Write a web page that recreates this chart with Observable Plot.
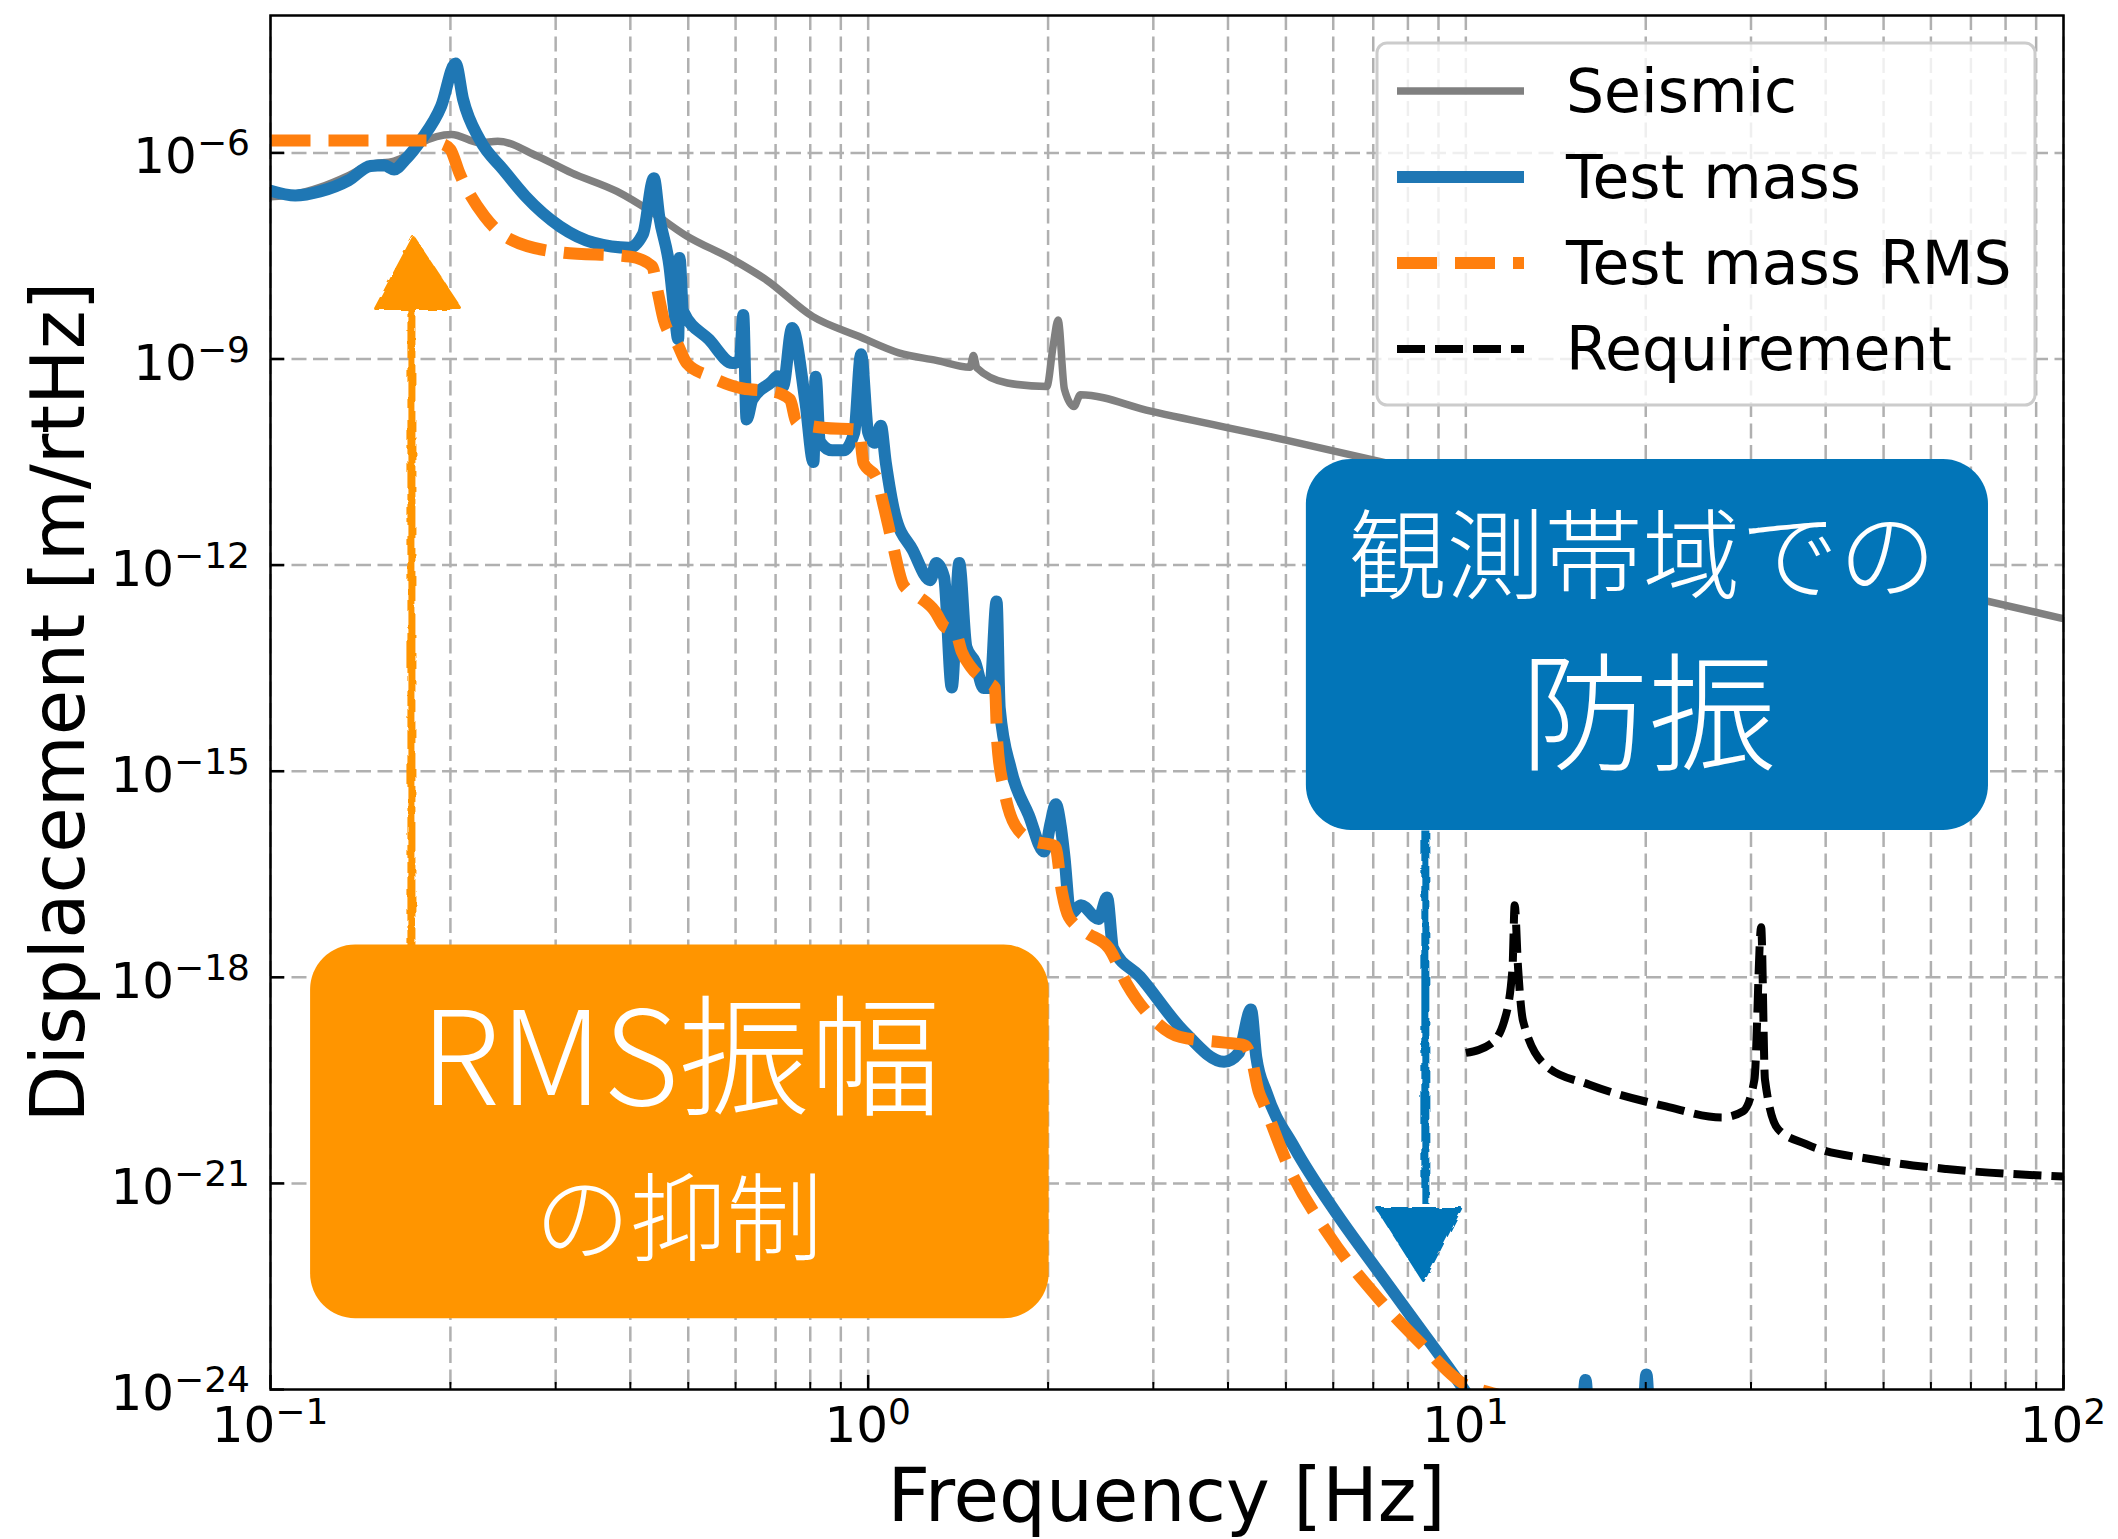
<!DOCTYPE html>
<html>
<head>
<meta charset="utf-8">
<script src="https://cdn.jsdelivr.net/npm/d3@7"></script>
<script src="https://cdn.jsdelivr.net/npm/@observablehq/plot@0.6"></script>
<style>
html,body{margin:0;padding:0;background:#fff;overflow:hidden}
</style>
</head>
<body>
<div id="chart"></div>
<script>
// ---------- data (frequency [Hz], displacement [m/rtHz]) ----------
const seismic = [[0.1,2.29e-7],[0.11,2.51e-7],[0.121,3.16e-7],[0.135,4.68e-7],[0.147,6.76e-7],[0.161,7.59e-7],[0.17,9.55e-7],[0.179,1.41e-6],[0.201,1.86e-6],[0.224,1.41e-6],[0.24,1.48e-6],[0.28,8.91e-7],[0.319,5.13e-7],[0.38,2.75e-7],[0.436,1.35e-7],[0.497,6.17e-8],[0.593,2.82e-8],[0.676,1.41e-8],[0.807,4.17e-9],[0.964,2.14e-9],[1.125,1.23e-9],[1.3,9.55e-10],[1.48,7.59e-10],[1.5,1.12e-9],[1.52,7.41e-10],[1.71,4.47e-10],[1.99,3.98e-10],[2.04,1.58e-9],[2.079,3.7e-9],[2.13,3.63e-10],[2.21,2.04e-10],[2.265,3.02e-10],[2.97,1.74e-10],[5,6.61e-11],[10,1.66e-11],[20,4.17e-12],[50,6.61e-13],[100,1.66e-13]];

const testMass = [[0.1,2.82e-7],[0.11,2.40e-7],[0.121,2.75e-7],[0.135,3.98e-7],[0.147,6.46e-7],[0.155,6.61e-7],[0.161,5.75e-7],[0.168,7.94e-7],[0.179,1.58e-6],[0.193,4.79e-6],[0.204,2.0e-5],[0.21,6.03e-6],[0.224,1.55e-6],[0.245,5.75e-7],[0.267,2.34e-7],[0.305,8.51e-8],[0.348,4.90e-8],[0.398,4.17e-8],[0.42,6.61e-8],[0.438,4.27e-7],[0.447,1.20e-7],[0.465,2.24e-8],[0.475,4.17e-9],[0.481,1.95e-9],[0.4835,2.95e-8],[0.49,5.01e-9],[0.542,1.91e-9],[0.593,8.71e-10],[0.61,9.55e-10],[0.618,4.37e-9],[0.626,1.32e-10],[0.64,2.57e-10],[0.69,4.68e-10],[0.705,5.62e-10],[0.72,3.98e-10],[0.746,2.82e-9],[0.785,2.40e-10],[0.81,3.16e-11],[0.817,5.50e-10],[0.83,6.31e-11],[0.871,4.68e-11],[0.91,4.68e-11],[0.948,8.51e-11],[0.973,1.17e-9],[1.0,8.51e-11],[1.025,6.03e-11],[1.05,1.07e-10],[1.07,3.16e-11],[1.108,5.62e-12],[1.187,1.66e-12],[1.27,6.03e-13],[1.30,1.07e-12],[1.34,6.61e-13],[1.38,1.66e-14],[1.42,1.07e-12],[1.46,6.46e-14],[1.51,3.89e-14],[1.56,1.62e-14],[1.60,1.62e-14],[1.64,2.95e-13],[1.66,8.32e-15],[1.733,1.07e-15],[1.857,2.29e-16],[1.97,6.76e-17],[2.02,1.78e-16],[2.06,3.31e-16],[2.10,1.58e-16],[2.13,5.75e-17],[2.18,8.32e-18],[2.27,1.12e-17],[2.43,7.08e-18],[2.51,1.45e-17],[2.57,2.63e-18],[2.85,1.02e-18],[3.36,1.70e-19],[3.94,5.89e-20],[4.17,7.94e-20],[4.37,3.39e-19],[4.46,6.92e-20],[4.64,2.09e-20],[5.16,3.39e-21],[6.08,3.63e-22],[7.15,5.13e-23],[8.41,7.41e-24],[9.89,1.05e-24],[11,2.51e-25],[15.5,6.31e-26],[15.86,1.38e-24],[16.2,6.31e-26],[19.6,5.01e-26],[20.05,1.66e-24],[20.5,5.01e-26],[30,1e-26],[100,1e-28]];

const testMassRMS = [[0.1,1.51e-6],[0.185,1.51e-6],[0.193,1.38e-6],[0.2,1.12e-6],[0.207,5.13e-7],[0.228,1.20e-7],[0.252,5.50e-8],[0.307,3.55e-8],[0.40,3.09e-8],[0.435,2.24e-8],[0.445,9.12e-9],[0.455,3.72e-9],[0.48,1.62e-9],[0.497,8.71e-10],[0.542,5.62e-10],[0.617,3.72e-10],[0.69,3.39e-10],[0.74,2.57e-10],[0.759,1.20e-10],[0.84,1.0e-10],[0.965,9.33e-11],[0.982,3.09e-11],[1.034,1.82e-11],[1.06,7.76e-12],[1.10,1.95e-12],[1.147,5.01e-13],[1.21,3.55e-13],[1.293,2.14e-13],[1.34,1.29e-13],[1.40,1.07e-13],[1.434,5.50e-14],[1.484,3.31e-14],[1.59,1.95e-14],[1.63,1.62e-14],[1.645,2.51e-15],[1.688,5.37e-16],[1.762,1.62e-16],[1.888,9.77e-17],[2.055,8.13e-17],[2.11,1.74e-17],[2.166,7.59e-18],[2.32,4.47e-18],[2.53,2.63e-18],[2.71,7.94e-19],[3.0,2.45e-19],[3.33,1.35e-19],[3.95,1.12e-19],[4.27,1.02e-19],[4.385,6.17e-20],[4.50,2.19e-20],[4.58,1.51e-20],[5.03,1.91e-21],[5.92,1.70e-22],[7.15,2.09e-23],[8.41,4.68e-24],[9.89,1.23e-24],[11,9.0e-25],[11.5,8.0e-25],[12.5,5.0e-25],[15,2.0e-25],[100,1e-27]];

const requirement = [[10.0,7.94e-20],[11.0,1.07e-19],[11.59,2.29e-19],[11.97,1.35e-18],[12.07,1.12e-17],[12.23,1.35e-18],[12.47,2.29e-19],[13.67,5.01e-20],[16.06,2.75e-20],[21.63,1.32e-20],[26.85,9.12e-21],[29.1,1.12e-20],[30.4,3.24e-20],[31.2,5.37e-18],[31.66,3.24e-20],[33.3,6.17e-21],[37.1,3.72e-21],[48.6,2.19e-21],[63.7,1.62e-21],[100,1.26e-21]];

// ---------- ticks ----------
const xMajorTicks = [0.1, 1, 10, 100];
const xMajorExps = ["\u22121", "0", "1", "2"];
const xMinorTicks = [0.2,0.3,0.4,0.5,0.6,0.7,0.8,0.9,2,3,4,5,6,7,8,9,20,30,40,50,60,70,80,90];
const yTicks = [1e-24, 1e-21, 1e-18, 1e-15, 1e-12, 1e-9, 1e-6];
const yExps = ["\u221224", "\u221221", "\u221218", "\u221215", "\u221212", "\u22129", "\u22126"];
const yGridTicks = [1e-21, 1e-18, 1e-15, 1e-12, 1e-9, 1e-6];

const legendLabels = ["Seismic", "Test mass", "Test mass RMS", "Requirement"];

// ---------- annotation anchors (data units) ----------
const rmsBox = {x1: 0.1167, x2: 2.008, y1: 2.95e-18, y2: 1.07e-23};
const bandBox = {x1: 5.41, x2: 74.9, y1: 3.44e-11, y2: 1.37e-16};
const rmsText = [{x: 0.4853, y: 5.6e-20, t: "RMS振幅", s: 131}, {x: 0.4816, y: 2.7e-22, t: "の抑制", s: 96}];
const bandText = [{x: 19.75, y: 1.22e-12, t: "観測帯域での", s: 98}, {x: 20.21, y: 5.5e-15, t: "防振", s: 128}];
const upShaft = [{x: 0.1721, y: 2.95e-18}, {x: 0.1721, y: 6.0e-9}];
const upHead = [{x: 0.1499, y: 5.43e-9}, {x: 0.1734, y: 5.87e-8}, {x: 0.2079, y: 5.43e-9}];
const downShaft = [{x: 8.556, y: 1.37e-16}, {x: 8.556, y: 5.0e-22}];
const downHead = [{x: 7.115, y: 4.32e-22}, {x: 8.49, y: 3.86e-23}, {x: 9.80, y: 4.32e-22}];

(function () {
// ---------- build ----------
const rows = a => a.map(([f, v]) => ({f, v}));
const C = {seismic: "#808080", test: "#1f77b4", rms: "#ff7f0e", req: "#000000"};
const ORANGE = "#ff9500", BLUE = "#0275b8";
const plotH = 1539 - 15 - 150, plotW = 2118 - 270 - 55;
const curve = "monotone-x";

const chart = Plot.plot({
  width: 2118, height: 1539,
  marginLeft: 270, marginRight: 55, marginTop: 15, marginBottom: 150,
  x: {type: "log", domain: [0.1, 100], axis: null},
  y: {type: "log", domain: [1e-24, 1e-4], axis: null},
  style: {background: "#fff", fontFamily: "DejaVu Sans, sans-serif", overflow: "visible"},
  marks: [
    Plot.ruleX([...xMajorTicks, ...xMinorTicks], {x: d => d, stroke: "#b0b0b0", strokeWidth: 2.5, strokeDasharray: "15,6.5"}),
    Plot.ruleY(yGridTicks, {y: d => d, stroke: "#b0b0b0", strokeWidth: 2.5, strokeDasharray: "15,6.5"}),
    Plot.line(rows(seismic), {x: "f", y: "v", stroke: C.seismic, strokeWidth: 7.5, curve, clip: true}),
    Plot.line(rows(testMass), {x: "f", y: "v", stroke: C.test, strokeWidth: 12, curve, clip: true}),
    Plot.line(rows(testMassRMS), {x: "f", y: "v", stroke: C.rms, strokeWidth: 12, strokeDasharray: "40,18", strokeLinecap: "butt", curve, clip: true}),
    Plot.line(rows(requirement), {x: "f", y: "v", stroke: C.req, strokeWidth: 8, strokeDasharray: "28,10", strokeLinecap: "butt", curve, clip: true}),
    Plot.tickX(xMajorTicks, {x: d => d, insetTop: plotH - 14, stroke: "#000", strokeWidth: 2.5}),
    Plot.tickX(xMinorTicks, {x: d => d, insetTop: plotH - 7, stroke: "#000", strokeWidth: 2}),
    Plot.tickY(yTicks, {y: d => d, insetRight: plotW - 14, stroke: "#000", strokeWidth: 2.5}),
    Plot.frame({stroke: "#000", strokeWidth: 2.5}),
    // annotations
    Plot.line(upShaft, {x: "x", y: "y", stroke: ORANGE, strokeWidth: 8, strokeLinecap: "butt", ariaDescription: "sketch"}),
    Plot.line(upHead, {x: "x", y: "y", stroke: ORANGE, fill: ORANGE, strokeWidth: 3, curve: "linear-closed", ariaDescription: "sketch"}),
    Plot.line(downShaft, {x: "x", y: "y", stroke: BLUE, strokeWidth: 8, strokeLinecap: "butt", ariaDescription: "sketch"}),
    Plot.line(downHead, {x: "x", y: "y", stroke: BLUE, fill: BLUE, strokeWidth: 3, curve: "linear-closed", ariaDescription: "sketch"}),
    Plot.rect([rmsBox], {x1: "x1", x2: "x2", y1: "y1", y2: "y2", fill: ORANGE, rx: 45}),
    Plot.rect([bandBox], {x1: "x1", x2: "x2", y1: "y1", y2: "y2", fill: BLUE, rx: 45}),
    Plot.text([...rmsText, ...bandText], {x: "x", y: "y", text: "t", fontSize: d => d.s, fill: "#fff",
      fontFamily: "Noto Sans CJK JP", fontWeight: 300, lineAnchor: "middle", textAnchor: "middle"})
  ]
});
document.getElementById("chart").appendChild(chart);

// ---------- post-render: tick labels, axis labels, legend ----------
const svg = d3.select(chart);
const sx = chart.scale("x"), sy = chart.scale("y");
const pxLeft = sx.apply(0.1), pxRight = sx.apply(100), pxBottom = sy.apply(1e-24), pxTop = sy.apply(1e-4);

// rough filter for hand-drawn arrows
const defs = svg.insert("defs", ":first-child");
const filt = defs.append("filter").attr("id", "rough").attr("filterUnits", "userSpaceOnUse")
  .attr("x", 0).attr("y", 0).attr("width", 2118).attr("height", 1539);
filt.append("feTurbulence").attr("type", "fractalNoise").attr("baseFrequency", "0.08").attr("numOctaves", 2).attr("result", "n");
filt.append("feDisplacementMap").attr("in", "SourceGraphic").attr("in2", "n").attr("scale", 5);
svg.selectAll('g[aria-description="sketch"]').attr("filter", "url(#rough)");

const tickFont = "DejaVu Sans, sans-serif";
function powerLabel(g, x, y, exp, anchor) {
  const t = g.append("text").attr("x", x).attr("y", y).attr("text-anchor", anchor)
    .attr("font-family", tickFont).attr("font-size", 50).attr("fill", "#000");
  t.append("tspan").text("10");
  t.append("tspan").attr("dy", -18).attr("font-size", 36).text(exp);
}
const labels = svg.append("g");
xMajorTicks.forEach((v, i) => powerLabel(labels, sx.apply(v), pxBottom + 53, xMajorExps[i], "middle"));
yTicks.forEach((v, i) => powerLabel(labels, pxLeft - 20, sy.apply(v) + 21, yExps[i], "end"));

svg.append("text").attr("x", (pxLeft + pxRight) / 2).attr("y", 1521).attr("text-anchor", "middle")
  .attr("font-family", tickFont).attr("font-size", 74).attr("fill", "#000").text("Frequency [Hz]");
svg.append("text").attr("transform", `translate(84,${(pxTop + pxBottom) / 2}) rotate(-90)`).attr("text-anchor", "middle")
  .attr("font-family", tickFont).attr("font-size", 74).attr("fill", "#000").text("Displacement [m/rtHz]");

// legend
const lg = svg.append("g");
const lx0 = pxRight - 686, ly0 = pxTop + 28;
lg.append("rect").attr("x", lx0).attr("y", ly0).attr("width", 658).attr("height", 362).attr("rx", 10)
  .attr("fill", "#fff").attr("fill-opacity", 0.8).attr("stroke", "#cccccc").attr("stroke-width", 3);
const legendStyles = [
  {stroke: C.seismic, w: 7.5, dash: null},
  {stroke: C.test, w: 12, dash: null},
  {stroke: C.rms, w: 12, dash: "40,18"},
  {stroke: C.req, w: 8, dash: "28,10"}
];
legendLabels.forEach((lab, i) => {
  const yy = ly0 + 48 + i * 86;
  lg.append("line").attr("x1", lx0 + 20).attr("x2", lx0 + 147).attr("y1", yy).attr("y2", yy)
    .attr("stroke", legendStyles[i].stroke).attr("stroke-width", legendStyles[i].w)
    .attr("stroke-dasharray", legendStyles[i].dash).attr("stroke-linecap", "butt");
  lg.append("text").attr("x", lx0 + 189).attr("y", yy + 21).attr("text-anchor", "start").attr("font-family", tickFont)
    .attr("font-size", 60).attr("fill", "#000").text(lab);
});
})();
</script>
</body>
</html>
